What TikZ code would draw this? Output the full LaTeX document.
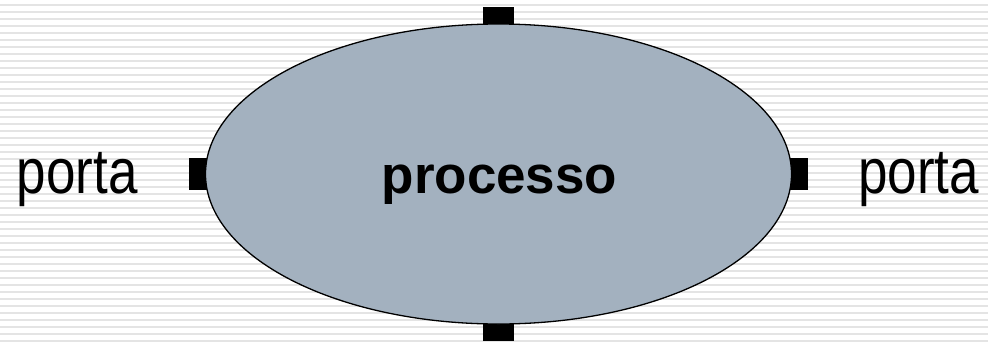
\documentclass[tikz,border=0pt]{standalone}
\usepackage{fontspec}
\setmainfont{Liberation Sans}
\usetikzlibrary{shapes.geometric,positioning}
\pgfdeclarelayer{stripes}
\pgfdeclarelayer{ports}
\pgfsetlayers{stripes,ports,main}
\definecolor{procfill}{HTML}{A3B1BF}
\definecolor{stripegray}{HTML}{E4E4E4}

\begin{document}
\begin{tikzpicture}[
		x=1pt, y=-1pt,
		proc/.style={ellipse, draw, line width=1.3pt, fill=procfill, inner sep=0pt, minimum width=586pt, minimum height=300pt},
		port/.style={fill=black, inner sep=0pt, minimum width=31pt, minimum height=32pt},
		lbl/.style={inner sep=0pt, font=\fontsize{53}{60}\selectfont},
	]
		\useasboundingbox (0,0) rectangle (988,343);
		\begin{pgfonlayer}{stripes}
			\fill[white] (0,0) rectangle (988,343);
			\foreach \y in {4.5,11.5,...,343}
				\draw[stripegray, line width=2pt] (0,\y) -- (988,\y);
		\end{pgfonlayer}

		\node[proc] (proc) at (498.5,174) {};
		\node[lbl, font=\fontsize{53}{60}\selectfont\bfseries, anchor=base] (name) at (499.5,193) {processo};

		\begin{pgfonlayer}{ports}
			\node[port] (pn) at (proc.north) {};
			\node[port] (ps) at (proc.south) {};
			\node[port] (pw) at (proc.west) {};
			\node[port] (pe) at (proc.east) {};
		\end{pgfonlayer}

		\node[lbl, anchor=base east] (lw) at (138,193) {\scalebox{1}[1.2]{porta}};
		\node[lbl, anchor=base west] (le) at (858,193) {\scalebox{1}[1.2]{porta}};
	\end{tikzpicture}
\end{document}
